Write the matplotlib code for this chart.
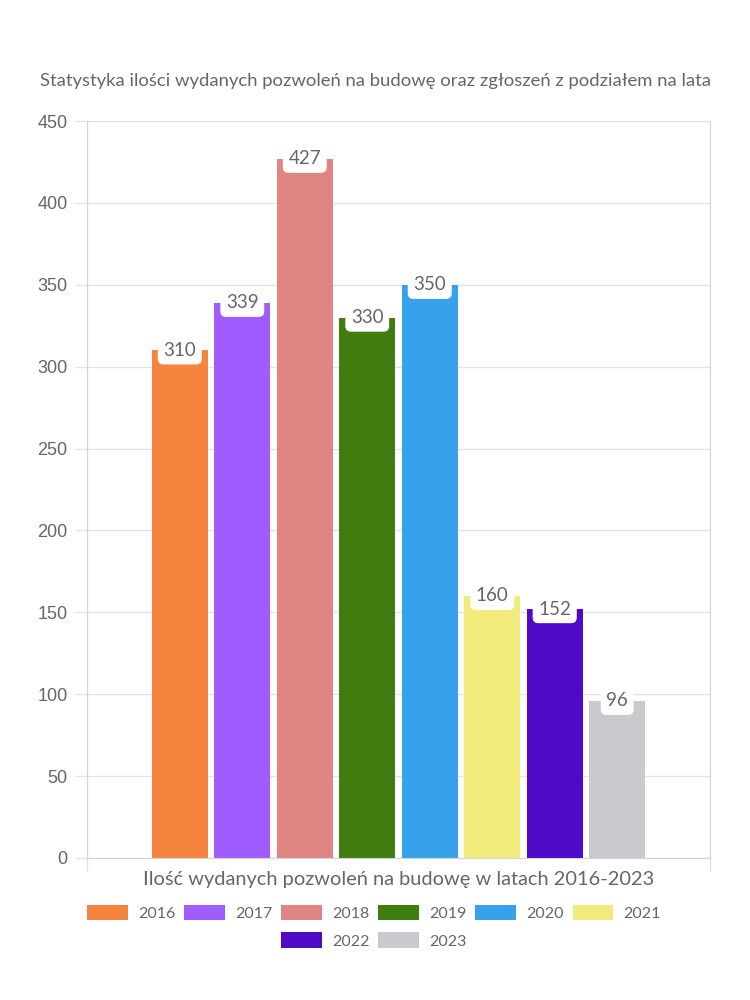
import matplotlib.pyplot as plt
from matplotlib.patches import Patch

# dane
lata = ['2016', '2017', '2018', '2019', '2020', '2021', '2022', '2023']
pozwolenia = [310, 339, 427, 330, 350, 160, 152, 96]
kolory = ['#F5843F', '#A05CFF', '#E08484', '#3E7D0E',
          '#37A2EB', '#F0EB7A', '#5009C6', '#C9CACE']
y_ticks = [0, 50, 100, 150, 200, 250, 300, 350, 400, 450]

plt.rcParams['font.family'] = ['Lato', 'DejaVu Sans']
szary = '#666666'
siatka = '#E3E3E3'

fig = plt.figure(figsize=(7.5, 10), dpi=100)
ax = fig.add_axes([87 / 750, 142 / 1000, 623 / 750, 737 / 1000])

krok = 0.1003
szer = 0.09
n = len(lata)
for i, (rok, val, kol) in enumerate(zip(lata, pozwolenia, kolory)):
    x = (i - (n - 1) / 2) * krok
    ax.bar(x, val, width=szer, color=kol, zorder=2)
    ax.text(x, val, str(val), ha='center', va='center', fontsize=13.5,
            color=szary, zorder=3,
            bbox=dict(boxstyle='round,pad=0.3,rounding_size=0.3',
                      fc='white', ec='none'))

ax.set_xlim(-0.5, 0.5)
ax.set_ylim(0, 450)
ax.set_yticks(y_ticks)
ax.set_yticklabels([str(t) for t in y_ticks], family='Liberation Sans',
                   fontsize=13, color=szary)
ax.set_xticks([-0.5, 0.5])
ax.set_xticklabels([])
ax.tick_params(axis='both', length=9, color=siatka, width=1, pad=5)
ax.grid(True, color=siatka, linewidth=1, zorder=0)
ax.set_axisbelow(True)
ax.spines['top'].set_visible(False)
for s in ['left', 'right', 'bottom']:
    ax.spines[s].set_color('#D5D5D5')

fig.text(0.5, 0.919, 'Statystyka ilości wydanych pozwoleń na budowę oraz zgłoszeń z podziałem na lata',
         ha='center', va='center', fontsize=13.3, color=szary)
fig.text(399 / 750, 0.12, 'Ilość wydanych pozwoleń na budowę w latach 2016-2023',
         ha='center', va='center', fontsize=14.4, color=szary)

uchwyty = [Patch(facecolor=k, edgecolor='none', label=r) for r, k in zip(lata, kolory)]
wspolne = dict(frameon=False, fontsize=11.5, handlelength=2.56, handleheight=1.1,
               handletextpad=0.63, columnspacing=0.55, labelcolor=szary,
               borderpad=0, borderaxespad=0)
leg1 = fig.legend(handles=uchwyty[:6], ncol=6, loc='center',
                  bbox_to_anchor=(374 / 750, 1 - 913 / 1000), **wspolne)
leg2 = fig.legend(handles=uchwyty[6:], ncol=2, loc='center',
                  bbox_to_anchor=(374 / 750, 1 - 940.5 / 1000), **wspolne)

fig.savefig('out.png', dpi=100)
